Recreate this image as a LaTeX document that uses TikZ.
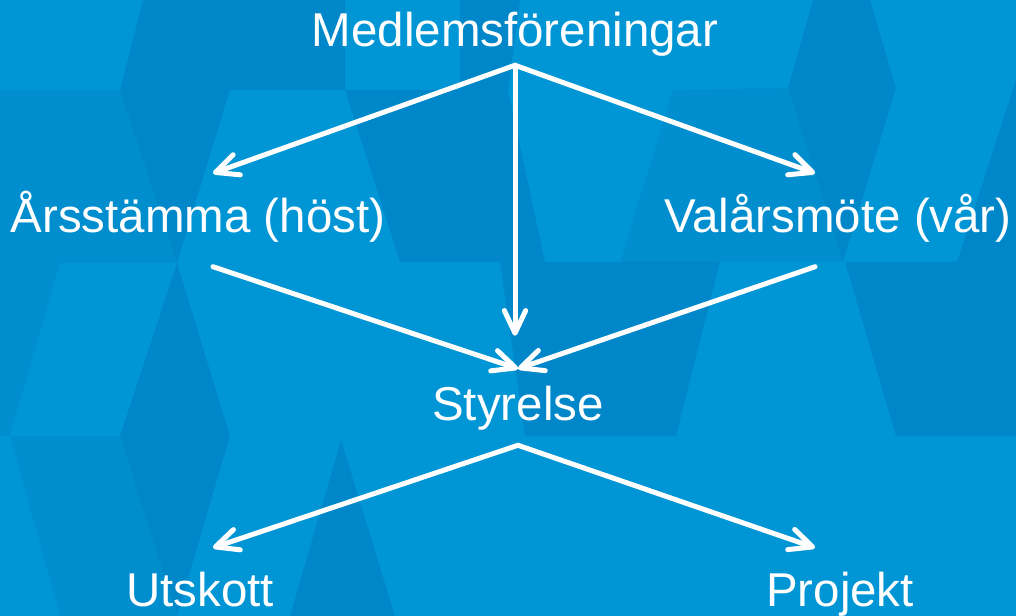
\documentclass[tikz,border=0pt]{standalone}
\usepackage{fontspec}
\setmainfont{Liberation Sans}
\usetikzlibrary{arrows.meta,positioning}
\definecolor{bgblue}{HTML}{0096D6}
\definecolor{bgmid}{HTML}{008ECF}
\definecolor{bgdark}{HTML}{0087C9}
\tikzset{
    lbl/.style={text=white,font=\fontsize{35.6}{40}\selectfont,inner xsep=0pt,
        text height=27pt,text depth=7.5pt,anchor=base},
    flow/.style={draw=white,line width=3.75pt,line cap=round,
        -{Straight Barb[length=17pt,width=16pt,round]}},
    facet/.style={fill=bgdark},
    facetmid/.style={fill=bgmid}
}

\begin{document}
\begin{tikzpicture}[x=0.75pt,y=-0.75pt]
    \useasboundingbox (0,0) rectangle (1016,616);
    \fill[bgblue] (0,0) rectangle (1016,616);
    % background facets
    \fill[facetmid] (0,90) -- (120,90) -- (177,263) -- (60,263) -- (10,436) -- (0,436) -- cycle;
    \fill[facetmid] (10,436) -- (120,436) -- (177,616) -- (60,616) -- cycle;
    \fill[facetmid] (673,90) -- (788,88) -- (843,262) -- (620,262) -- cycle;
    \fill[facet] (143,0) -- (345,0) -- (345,90) -- (230,90) -- (177,263) -- (120,90) -- cycle;
    \fill[facet] (460,0) -- (520,0) -- (508,90) -- (460,90) -- cycle;
    \fill[facet] (345,90) -- (508,90) -- (545,262) -- (400,262) -- cycle;
    \fill[facet] (813,0) -- (870,0) -- (896,88) -- (843,262) -- (788,88) -- cycle;
    \fill[facet] (1016,80) -- (1016,262) -- (957,262) -- cycle;
    \fill[facet] (177,263) -- (230,436) -- (177,616) -- (120,436) -- cycle;
    \fill[facet] (341,440) -- (395,616) -- (290,616) -- cycle;
    \fill[facet] (500,262) -- (720,262) -- (676,436) -- (525,436) -- cycle;
    \fill[facet] (845,262) -- (1016,262) -- (1016,436) -- (896,436) -- cycle;

    \node[lbl,inner ysep=6pt] (medlem) at (515,47) {Medlemsföreningar};
    \node[lbl,inner ysep=17.6pt] (ars) at (198,233) {Årsstämma (höst)};
    \node[lbl,inner ysep=17.6pt] (val) at (838,233) {Valårsmöte (vår)};
    \node[lbl,inner ysep=11.25pt] (styr) at (518,420) {Styrelse};
    \node[lbl,inner ysep=16.5pt] (utsk) at (200,606) {Utskott};
    \node[lbl,inner ysep=16.5pt] (proj) at (840,606) {Projekt};

    \draw[flow] (medlem.south) -- ([xshift=11.25pt]ars.north);
    \draw[flow] (medlem.south) -- ([xshift=-17.25pt]val.north);
    \draw[flow] (medlem.south) -- ([yshift=24.75pt]styr.north -| medlem.south);
    \draw[flow] ([xshift=11.25pt]ars.south) -- (styr.north);
    \draw[flow] ([xshift=-17.25pt]val.south) -- (styr.north);
    \draw[flow] (styr.south) -- ([xshift=9.75pt]utsk.north);
    \draw[flow] (styr.south) -- ([xshift=-18.75pt]proj.north);
\end{tikzpicture}
\end{document}
